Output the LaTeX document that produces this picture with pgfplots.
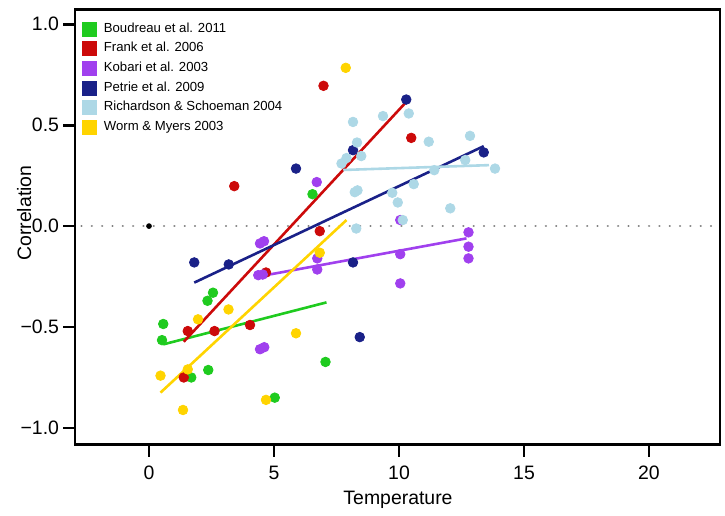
\documentclass[border=0pt]{standalone}
\usepackage{pgfplots}
\pgfplotsset{compat=1.18}
\usepackage{fontspec}
\setmainfont{Liberation Sans}
\definecolor{cG}{HTML}{1FCB1F}
\definecolor{cR}{HTML}{CC0A0A}
\definecolor{cP}{HTML}{A040EE}
\definecolor{cN}{HTML}{1A2188}
\definecolor{cL}{HTML}{ADD8E6}
\definecolor{cY}{HTML}{FFD400}
\pgfplotsset{
  sq/.style={legend image code/.code={\fill[#1] (0bp,-3.5bp) rectangle (7bp,3.5bp);}},
  pts/.style={only marks, mark=*, mark size=2.4bp, color=#1, mark options={draw=#1, fill=#1}, sq=#1},
  fit/.style={no marks, line width=1.3bp, color=#1, forget plot},
}
\begin{document}
\begin{tikzpicture}
\begin{axis}[
  scale only axis,
  width=322.5bp, height=217.7bp,
  xmin=-2.96, xmax=22.84,
  ymin=-1.083, ymax=1.074,
  clip=false,
  axis line style={line width=1.4bp, black},
  tick align=outside,
  xtick pos=bottom, ytick pos=left,
  major tick length=6bp,
  tick style={line width=1.4bp, black},
  xtick={0,5,10,15,20},
  xticklabels={0,5,10,15,20},
  ytick={-1,-0.5,0,0.5,1},
  yticklabels={−1.0,−0.5,0.0,0.5,1.0},
  ticklabel style={font=\fontsize{9.75}{11}\selectfont},
  xticklabel style={yshift=-1.2bp},
  yticklabel style={xshift=1.5bp},
  label style={font=\fontsize{9.75}{11}\selectfont},
  xlabel={Temperature},
  ylabel={Correlation},
  xlabel style={at={(rel axis cs:0.5008,-0.127)}, anchor=center},
  ylabel style={at={(rel axis cs:-0.079,0.532)}, anchor=center},
  legend style={draw=none, fill=none, inner sep=0pt, at={(rel axis cs:0.0104,0.9724)}, anchor=north west,
    font=\fontsize{6.6}{7.5}\selectfont, nodes={inner sep=0pt}, row sep=2.4bp, column sep=3.5bp},
  legend cell align=left,
]
% zero line
\addplot[forget plot, gray, line width=1.2bp, dash pattern=on 0.01bp off 5.15bp, line cap=round] coordinates {(-2.7,0) (22.84,0)};
\addplot[forget plot, only marks, mark=*, mark size=1.2bp, black] coordinates {(0,0)};
% Boudreau
\addplot[pts=cG] coordinates {(0.57,-0.485) (0.52,-0.565) (2.56,-0.33) (2.34,-0.37) (2.37,-0.713) (1.69,-0.75) (5.03,-0.85) (7.06,-0.673) (6.54,0.158)};
\addlegendentry{Boudreau et al. 2011}
\addplot[fit=cG] coordinates {(0.57,-0.586) (7.1,-0.378)};
% Frank
\addplot[pts=cR] coordinates {(1.55,-0.52) (2.62,-0.52) (4.04,-0.49) (1.39,-0.75) (4.68,-0.23) (6.83,-0.025) (3.41,0.198) (6.98,0.695) (10.49,0.437)};
\addlegendentry{Frank et al. 2006}
\addplot[fit=cR] coordinates {(1.39,-0.573) (10.29,0.615)};
% Kobari
\addplot[pts=cP] coordinates {(4.44,-0.086) (4.6,-0.075) (6.73,-0.16) (6.73,-0.215) (4.37,-0.243) (4.55,-0.24) (4.44,-0.61) (4.61,-0.6) (10.05,-0.139) (10.05,-0.284) (6.71,0.218) (10.05,0.03) (12.78,-0.031) (12.78,-0.102) (12.78,-0.16)};
\addlegendentry{Kobari et al. 2003}
\addplot[fit=cP] coordinates {(4.37,-0.25) (12.7,-0.061)};
% Petrie
\addplot[pts=cN] coordinates {(1.81,-0.18) (3.19,-0.19) (8.16,-0.18) (8.43,-0.55) (5.88,0.285) (8.16,0.376) (10.29,0.627) (13.39,0.365)};
\addlegendentry{Petrie et al. 2009}
\addplot[fit=cN] coordinates {(1.81,-0.28) (13.39,0.396)};
% Richardson
\addplot[pts=cL] coordinates {(8.16,0.516) (9.36,0.545) (8.32,0.414) (8.49,0.347) (7.7,0.31) (7.9,0.337) (8.23,0.168) (8.34,0.177) (9.73,0.165) (9.95,0.117) (10.15,0.03) (8.29,-0.012) (10.39,0.558) (11.19,0.418) (12.84,0.447) (12.65,0.327) (13.84,0.285) (11.41,0.277) (10.59,0.208) (12.05,0.088)};
\addlegendentry{Richardson \& Schoeman 2004}
\addplot[fit=cL] coordinates {(7.77,0.278) (13.6,0.302)};
% Worm
\addplot[pts=cY] coordinates {(7.87,0.784) (6.83,-0.132) (3.18,-0.413) (1.96,-0.462) (0.46,-0.741) (1.55,-0.71) (5.88,-0.531) (4.68,-0.861) (1.36,-0.911)};
\addlegendentry{Worm \& Myers 2003}
\addplot[fit=cY] coordinates {(0.46,-0.825) (7.9,0.03)};
\path (rel axis cs:-0.1163,-0.1523) rectangle (rel axis cs:1.00775,1.0214);
\end{axis}
\end{tikzpicture}
\end{document}
